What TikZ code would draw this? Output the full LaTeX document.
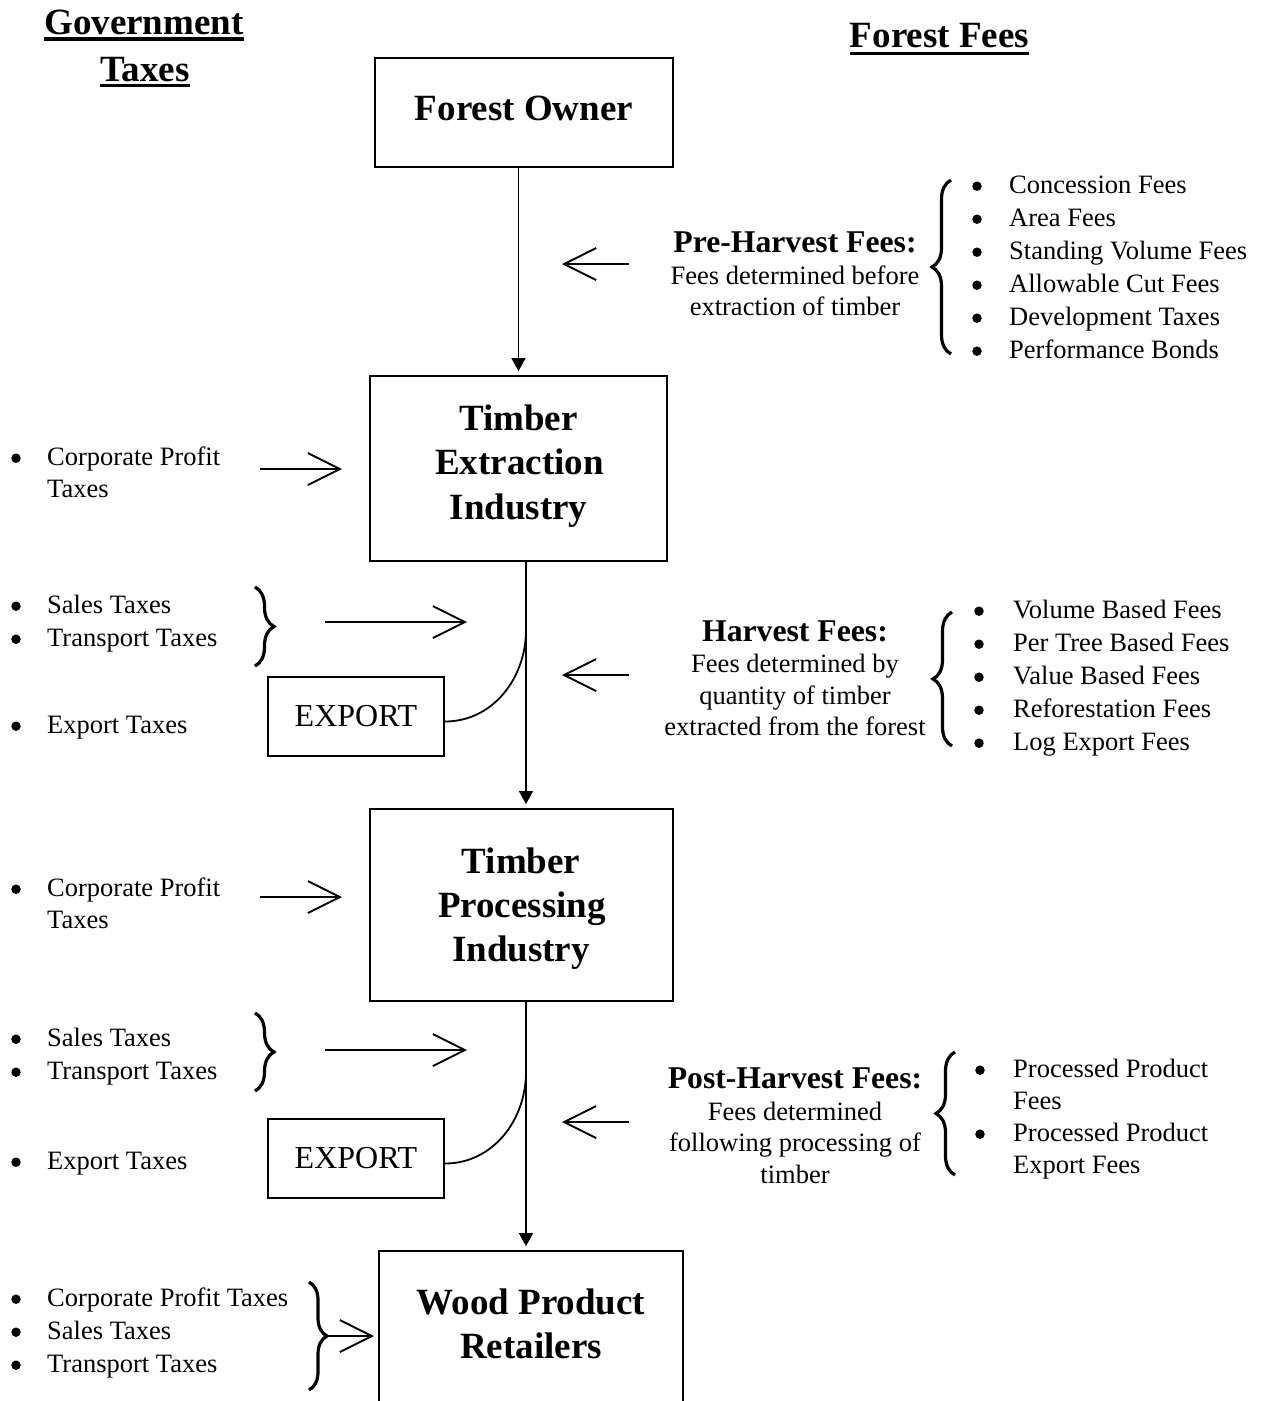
\documentclass[tikz,border=0pt]{standalone}
\usepackage{fontspec}
\setmainfont{Liberation Serif}
\usetikzlibrary{arrows.meta,decorations.pathreplacing}
\tikzset{
 body/.style={font=\fontsize{26.5}{32}\selectfont, inner sep=0pt, anchor=base west},
 bul/.style={circle, fill, inner sep=0pt, minimum size=9.5pt, yshift=6.8pt},
 bodyc/.style={font=\fontsize{26.5}{32}\selectfont, inner sep=0pt, anchor=base},
 sub/.style={font=\fontsize{31.7}{36}\selectfont\bfseries, inner sep=0pt, anchor=base},
 ttl/.style={font=\fontsize{37}{44}\selectfont\bfseries, inner sep=0pt, anchor=base},
 box/.style={draw, line width=1.8pt, inner sep=0pt},
 exbox/.style={box, font=\fontsize{32}{36}\selectfont},
 line/.style={line width=1.8pt},
 flow/.style={line width=1.8pt, -{Triangle[length=13pt,width=14pt]}, shorten >=4pt},
 harrow/.style={line width=1.9pt, -{Straight Barb[length=32pt,width=32pt]}},
 brc/.style={decorate, decoration={brace, amplitude=19pt}, line width=3.2pt},
 uline/.style={line width=3.5pt},
}
\begin{document}
\begin{tikzpicture}[x=1pt,y=-1pt]
\useasboundingbox (0,0) rectangle (1262,1401);
\clip (0,0) rectangle (1262,1401);

% headings
\node[ttl] (gov) at (144,34) {Government};
\node[ttl] (tax) at (145,81) {Taxes};
\node[ttl] (ff) at (939.5,47) {Forest Fees};
\draw[uline] ([yshift=-5pt]gov.base west) -- ([yshift=-5pt]gov.base east);
\draw[uline] ([yshift=-4.5pt]tax.base west) -- ([yshift=-4.5pt]tax.base east);
\draw[uline] ([yshift=-6.5pt]ff.base west) -- ([yshift=-6.5pt]ff.base east);

% boxes
\node[box, minimum width=298pt, minimum height=109pt] (fo) at (524,112.5) {};
\node[box, minimum width=297pt, minimum height=185pt] (te) at (518.5,468.5) {};
\node[box, minimum width=303pt, minimum height=192pt] (tp) at (521.5,905) {};
\node[box, minimum width=304pt, minimum height=209pt] (wr) at (531,1355.5) {};
\node[exbox, minimum width=176pt, minimum height=79pt] (ex1) at (356,716.5) {EXPORT};
\node[exbox, minimum width=176pt, minimum height=79pt] (ex2) at (356,1158.5) {EXPORT};

% box titles
\node[ttl] (fo1) at (524,120) {Forest Owner};
\node[ttl] (te1) at (518.5,430) {Timber};
\node[ttl] (te2) at (519.5,474.5) {Extraction};
\node[ttl] (te3) at (518.5,519) {Industry};
\node[ttl] (tp1) at (521,873) {Timber};
\node[ttl] (tp2) at (522,917) {Processing};
\node[ttl] (tp3) at (521,961) {Industry};
\node[ttl] (wr1) at (531,1314) {Wood Product};
\node[ttl] (wr2) at (531,1358) {Retailers};

% main flow
\coordinate (j1) at (526,630);
\coordinate (j2) at (526,1072);
\draw[flow] (fo.south -| te.north) -- (te.north);
\draw[flow] (te.south -| j1) -- (j1) -- (tp.north -| j1);
\draw[flow] (tp.south -| j2) -- (j2) -- (wr.north -| j2);
\draw[line] ([yshift=-5pt]ex1.east) .. controls +(48,0) and +(0,48) .. (j1);
\draw[line] ([yshift=-5pt]ex2.east) .. controls +(48,0) and +(0,48) .. (j2);

% horizontal arrows
\coordinate (pa1) at (629,264); \coordinate (pa2) at (562,264);
\coordinate (ha1) at (629,675); \coordinate (ha2) at (562,675);
\coordinate (qa1) at (629,1122); \coordinate (qa2) at (562,1122);
\coordinate (c1a) at (260,469); \coordinate (c1b) at (342,469);
\coordinate (s1a) at (325,622); \coordinate (s1b) at (467,622);
\coordinate (c2a) at (260,897); \coordinate (c2b) at (342,897);
\coordinate (s2a) at (325,1050); \coordinate (s2b) at (467,1050);
\coordinate (r1a) at (328,1336); \coordinate (r1b) at (374,1336);
\draw[harrow] (pa1) -- (pa2);
\draw[harrow] (ha1) -- (ha2);
\draw[harrow] (qa1) -- (qa2);
\draw[harrow] (c1a) -- (c1b);
\draw[harrow] (s1a) -- (s1b);
\draw[harrow] (c2a) -- (c2b);
\draw[harrow] (s2a) -- (s2b);
\draw[harrow] (r1a) -- (r1b);

% braces
\draw[brc] (951,354) -- (951,180);
\draw[brc] (952,746) -- (952,612);
\draw[brc] (955,1175) -- (955,1052);
\draw[brc] (255,587) -- (255,666);
\draw[brc] (255,1013) -- (255,1091);
\draw[brc, decoration={brace, amplitude=18pt}] (309,1282) -- (309,1390);

% pre-harvest
\node[sub] (ph) at (795,252) {Pre-Harvest Fees:};
\node[bodyc] (ph1) at (795,284) {Fees determined before};
\node[bodyc] (ph2) at (795,315) {extraction of timber};
\node[bul] (pb1) at (977,193) {}; \node[body] (pi1) at (1009,193) {Concession Fees};
\node[bul] (pb2) at (977,226) {}; \node[body] (pi2) at (1009,226) {Area Fees};
\node[bul] (pb3) at (977,259) {}; \node[body] (pi3) at (1009,259) {Standing Volume Fees};
\node[bul] (pb4) at (977,292) {}; \node[body] (pi4) at (1009,292) {Allowable Cut Fees};
\node[bul] (pb5) at (977,325) {}; \node[body] (pi5) at (1009,325) {Development Taxes};
\node[bul] (pb6) at (977,358) {}; \node[body] (pi6) at (1009,358) {Performance Bonds};

% harvest
\node[sub] (hf) at (795,641) {Harvest Fees:};
\node[bodyc] (hf1) at (795,672) {Fees determined by};
\node[bodyc] (hf2) at (795,704) {quantity of timber};
\node[bodyc] (hf3) at (795,735) {extracted from the forest};
\node[bul] (hb1) at (979,618) {}; \node[body] (hi1) at (1013,618) {Volume Based Fees};
\node[bul] (hb2) at (979,651) {}; \node[body] (hi2) at (1013,651) {Per Tree Based Fees};
\node[bul] (hb3) at (979,684) {}; \node[body] (hi3) at (1013,684) {Value Based Fees};
\node[bul] (hb4) at (979,717) {}; \node[body] (hi4) at (1013,717) {Reforestation Fees};
\node[bul] (hb5) at (979,750) {}; \node[body] (hi5) at (1013,750) {Log Export Fees};

% post-harvest
\node[sub] (qf) at (795,1088) {Post-Harvest Fees:};
\node[bodyc] (qf1) at (795,1120) {Fees determined};
\node[bodyc] (qf2) at (795,1151) {following processing of};
\node[bodyc] (qf3) at (795,1183) {timber};
\node[bul] (qb1) at (980,1077) {}; \node[body] (qi1) at (1013,1077) {Processed Product};
\node[body] (qi2) at (1013,1109) {Fees};
\node[bul] (qb3) at (980,1141) {}; \node[body] (qi3) at (1013,1141) {Processed Product};
\node[body] (qi4) at (1013,1173) {Export Fees};

% left taxes, extraction
\node[bul] (lb1) at (16,465) {}; \node[body] (l1) at (47,465) {Corporate Profit};
\node[body] (l2) at (47,497) {Taxes};
\node[bul] (lb3) at (16,613) {}; \node[body] (l3) at (47,613) {Sales Taxes};
\node[bul] (lb4) at (16,646) {}; \node[body] (l4) at (47,646) {Transport Taxes};
\node[bul] (lb5) at (16,733) {}; \node[body] (l5) at (47,733) {Export Taxes};

% left taxes, processing
\node[bul] (mb1) at (16,896) {}; \node[body] (m1) at (47,896) {Corporate Profit};
\node[body] (m2) at (47,928) {Taxes};
\node[bul] (mb3) at (16,1046) {}; \node[body] (m3) at (47,1046) {Sales Taxes};
\node[bul] (mb4) at (16,1079) {}; \node[body] (m4) at (47,1079) {Transport Taxes};
\node[bul] (mb5) at (16,1169) {}; \node[body] (m5) at (47,1169) {Export Taxes};

% left taxes, retailers
\node[bul] (nb1) at (16,1306) {}; \node[body] (n1) at (47,1306) {Corporate Profit Taxes};
\node[bul] (nb2) at (16,1339) {}; \node[body] (n2) at (47,1339) {Sales Taxes};
\node[bul] (nb3) at (16,1372) {}; \node[body] (n3) at (47,1372) {Transport Taxes};
\end{tikzpicture}
\end{document}
